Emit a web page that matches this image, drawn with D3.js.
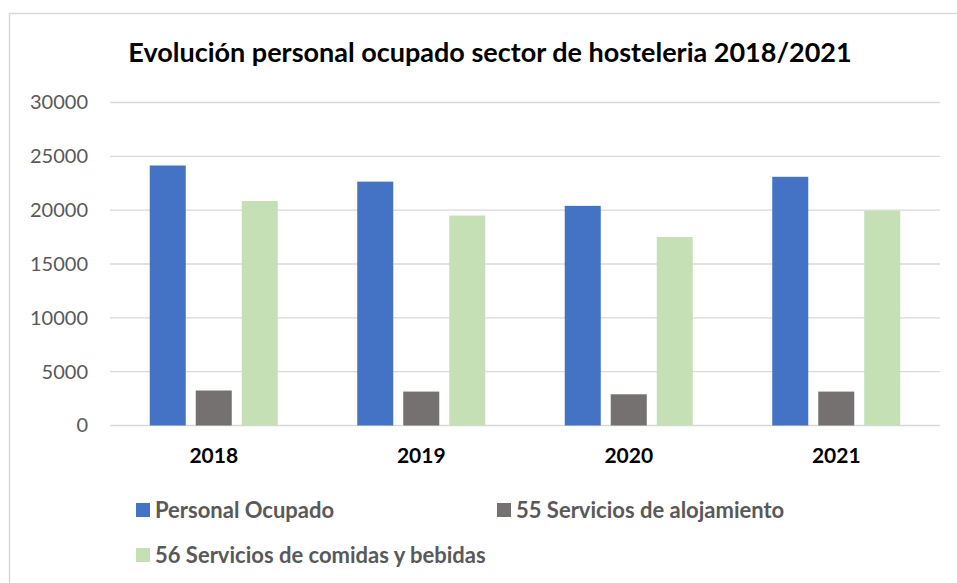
<!DOCTYPE html>
<html>
<head>
<meta charset="utf-8">
<script src="https://cdn.jsdelivr.net/npm/d3@7"></script>
<style>
  body { margin: 0; background: #fff; }
  svg { display: block; font-family: Lato, "Open Sans", sans-serif; }
</style>
</head>
<body>
<svg id="chart" width="957" height="583"></svg>
<script>
// data
let years = ["2018", "2019", "2020", "2021"];
let personalOcupado = [24150, 22650, 20400, 23100];
let alojamiento = [3250, 3150, 2900, 3150];
let comidas = [20850, 19500, 17500, 19950];
let seriesNames = ["Personal Ocupado", "55 Servicios de alojamiento", "56 Servicios de comidas y bebidas"];
let seriesColors = ["#4472C4", "#767171", "#C5E0B4"];
let yTicks = [0, 5000, 10000, 15000, 20000, 25000, 30000];

let svg = d3.select("#chart");

// outer chart frame (runs off the bottom/right like the reference)
svg.append("rect")
   .attr("x", 9.5).attr("y", 13.5)
   .attr("width", 1000).attr("height", 600)
   .attr("fill", "none")
   .attr("stroke", "#d9d9d9")
   .attr("stroke-width", 1.5);

// title
svg.append("text")
   .attr("x", 490).attr("y", 62)
   .attr("text-anchor", "middle")
   .attr("font-size", 27)
   .attr("font-weight", "bold")
   .attr("fill", "#000")
   .text("Evolución personal ocupado sector de hosteleria 2018/2021");

let x0 = d3.scaleBand().domain(years).range([110, 940]);
let x1 = d3.scaleBand().domain(d3.range(seriesNames.length))
           .range([0, x0.bandwidth()])
           .paddingInner(0.217)
           .paddingOuter(0.864);
let y = d3.scaleLinear().domain([0, 30000]).range([425.5, 102.5]);

// gridlines
svg.append("g").selectAll("line")
   .data(yTicks)
   .join("line")
   .attr("x1", 110).attr("x2", 940)
   .attr("y1", d => y(d)).attr("y2", d => y(d))
   .attr("stroke", "#d9d9d9")
   .attr("stroke-width", 1.3);

// y axis labels
let yAxis = d3.axisLeft(y).tickValues(yTicks).tickSize(0).tickPadding(0).tickFormat(d3.format("d"));
let yg = svg.append("g").attr("transform", "translate(88,0)").call(yAxis);
yg.select(".domain").remove();
yg.selectAll("text")
  .attr("font-family", "Lato, sans-serif")
  .attr("font-size", 20)
  .attr("fill", "#595959");

// bars
let rows = years.map((yr, i) => ({year: yr, values: [personalOcupado[i], alojamiento[i], comidas[i]]}));
let groups = svg.append("g").selectAll("g")
   .data(rows)
   .join("g")
   .attr("transform", d => "translate(" + x0(d.year) + ",0)");
groups.selectAll("rect")
   .data(d => d.values.map((v, k) => ({k: k, v: v})))
   .join("rect")
   .attr("x", d => x1(d.k))
   .attr("width", x1.bandwidth())
   .attr("y", d => y(d.v))
   .attr("height", d => y(0) - y(d.v))
   .attr("fill", d => seriesColors[d.k]);

// x axis labels
let xAxis = d3.axisBottom(x0).tickSize(0).tickPadding(0);
let xg = svg.append("g").attr("transform", "translate(0,448)").call(xAxis);
xg.select(".domain").remove();
xg.selectAll("text")
  .attr("dy", "0.71em")
  .attr("font-family", "Lato, sans-serif")
  .attr("font-size", 21)
  .attr("font-weight", "bold")
  .attr("fill", "#000");

// legend
let legendPos = [[136, 503], [497, 503], [136, 548]];
let legend = svg.append("g").selectAll("g")
   .data(seriesNames)
   .join("g")
   .attr("transform", (d, i) => "translate(" + legendPos[i][0] + "," + legendPos[i][1] + ")");
legend.append("rect")
   .attr("width", 14).attr("height", 14)
   .attr("fill", (d, i) => seriesColors[i]);
legend.append("text")
   .attr("x", 19).attr("y", 15)
   .attr("font-size", 22)
   .attr("font-weight", "bold")
   .attr("fill", "#595959")
   .text(d => d);
</script>
</body>
</html>
